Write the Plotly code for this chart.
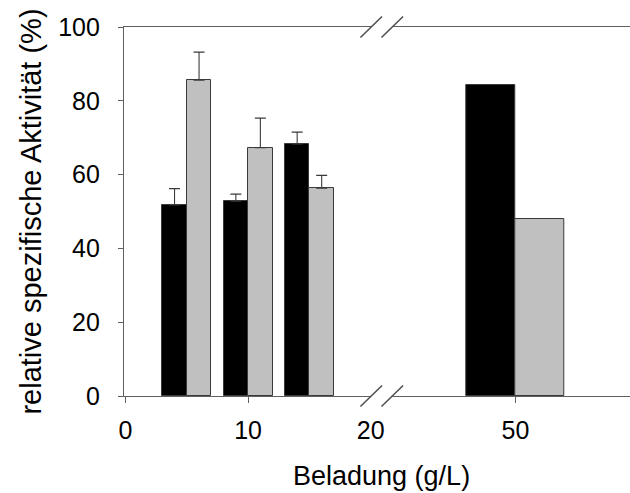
import plotly.graph_objects as go

# Loading groups (g/L) and relative specific activity (%)
loading_low = [5, 10, 15]
black_low = [51.8, 52.8, 68.3]
black_low_err = [4.4, 1.9, 3.2]
grey_low = [85.6, 67.3, 56.3]
grey_low_err = [7.6, 8.0, 3.5]

loading_high = [50]
black_high = [84.3]
grey_high = [48.0]

x_ticks_low = [0, 10, 20]
x_ticks_high = [50]
y_ticks = [0, 20, 40, 60, 80, 100]

FONT = "Liberation Sans, Arial, sans-serif"
AXIS_COL = "#606060"
EDGE_COL = "#3a3a3a"
BAR_W = 2
LEFT_DOM = [0, 0.4886]
RIGHT_DOM = [0.5302, 1]

fig = go.Figure()

err_style = dict(type="data", symmetric=False, color=EDGE_COL, thickness=1.1, width=5.5)

fig.add_trace(go.Bar(
    x=loading_low, y=black_low, width=BAR_W, offset=-BAR_W,
    marker=dict(color="black", line=dict(color=EDGE_COL, width=1)),
    error_y=dict(array=black_low_err, arrayminus=[0] * len(black_low_err), **err_style),
    xaxis="x", yaxis="y", showlegend=False,
))
fig.add_trace(go.Bar(
    x=loading_low, y=grey_low, width=BAR_W, offset=0,
    marker=dict(color="#c0c0c0", line=dict(color=EDGE_COL, width=1)),
    error_y=dict(array=grey_low_err, arrayminus=[0] * len(grey_low_err), **err_style),
    xaxis="x", yaxis="y", showlegend=False,
))
fig.add_trace(go.Bar(
    x=loading_high, y=black_high, width=BAR_W, offset=-BAR_W,
    marker=dict(color="black", line=dict(color=EDGE_COL, width=1)),
    xaxis="x2", yaxis="y2", showlegend=False,
))
fig.add_trace(go.Bar(
    x=loading_high, y=grey_high, width=BAR_W, offset=0,
    marker=dict(color="#c0c0c0", line=dict(color=EDGE_COL, width=1)),
    xaxis="x2", yaxis="y2", showlegend=False,
))

tick_font = dict(family=FONT, size=25, color="black")
common_x = dict(
    showline=True, linecolor=AXIS_COL, linewidth=1.3, mirror=True,
    showgrid=False, zeroline=False, ticks="", tickfont=tick_font,
    ticklabelstandoff=12,
)

fig.update_layout(
    width=630, height=493,
    margin=dict(l=124, r=0, t=27, b=97, autoexpand=False),
    paper_bgcolor="white", plot_bgcolor="white",
    bargap=0,
    xaxis=dict(
        domain=LEFT_DOM, range=[-0.12, 20.04], anchor="y",
        tickmode="array", tickvals=x_ticks_low,
        minor=dict(tickmode="array", tickvals=x_ticks_low[:2], ticks="outside",
                   ticklen=6, tickcolor=AXIS_COL, tickwidth=1.2),
        **common_x,
    ),
    xaxis2=dict(
        domain=RIGHT_DOM, range=[45, 54.65], anchor="y2",
        tickmode="array", tickvals=x_ticks_high,
        minor=dict(tickmode="array", tickvals=x_ticks_high, ticks="outside",
                   ticklen=6, tickcolor=AXIS_COL, tickwidth=1.2),
        **common_x,
    ),
    yaxis=dict(
        range=[0, 100], anchor="x", tickmode="array", tickvals=y_ticks,
        showline=True, linecolor=AXIS_COL, linewidth=1.3,
        showgrid=False, zeroline=False,
        ticks="outside", ticklen=5, tickcolor=AXIS_COL, tickwidth=1.2,
        tickfont=tick_font, ticklabelstandoff=13,
        title=dict(text="relative spezifische Aktivität (%)",
                   font=dict(family=FONT, size=29, color="black"), standoff=7),
    ),
    yaxis2=dict(
        range=[0, 100], anchor="x2", matches="y",
        showline=False, showgrid=False, zeroline=False,
        ticks="", showticklabels=False,
    ),
    annotations=[dict(
        text="Beladung (g/L)", xref="paper", yref="paper", x=0.508, y=0,
        xanchor="center", yanchor="middle", yshift=-80, showarrow=False,
        font=dict(family=FONT, size=27, color="black"),
    )],
)

# Axis-break slashes at the bottom and top of the gap between the two x ranges
shapes = []
for xval in (LEFT_DOM[1], RIGHT_DOM[0]):
    for yval in (0, 1):
        shapes.append(dict(
            type="line", xref="paper", yref="paper",
            xsizemode="pixel", xanchor=xval, ysizemode="pixel", yanchor=yval,
            x0=-10.8, x1=10.8, y0=-10.5, y1=10.5,
            line=dict(color="#505050", width=1.6),
        ))
fig.update_layout(shapes=shapes)

fig.write_html("out.html")
